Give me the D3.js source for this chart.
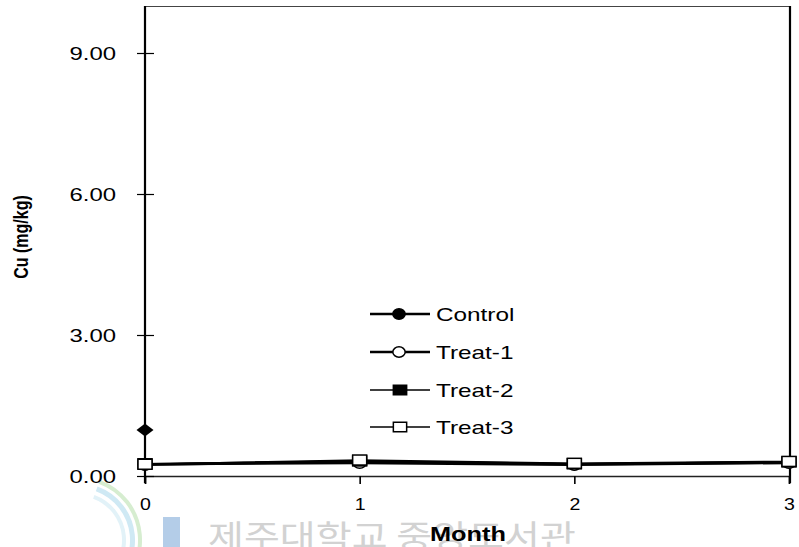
<!DOCTYPE html>
<html>
<head>
<meta charset="utf-8">
<script src="https://cdn.jsdelivr.net/npm/d3@7"></script>
<style>
  html, body { margin: 0; padding: 0; background: #fff; }
  svg { display: block; }
  text { font-family: "Liberation Sans", Arial, sans-serif; fill: #000; }
</style>
</head>
<body>
<svg id="chart" width="799" height="547"></svg>
<script>
// Cu content (mg/kg) by month for each treatment
const months = [0, 1, 2, 3];
const seriesNames = ["Control", "Treat-1", "Treat-2", "Treat-3"];
const control = [0.24, 0.31, 0.25, 0.29];
const treat1 = [0.25, 0.28, 0.24, 0.28];
const treat2 = [0.26, 0.32, 0.26, 0.30];
const treat3 = [0.25, 0.34, 0.27, 0.31];
// single initial reading plotted at month 0
const initialMonth = [0];
const initialValue = [0.98];
const yTicks = [0, 3, 6, 9];
const xTicks = [0, 1, 2, 3];

const svg = d3.select("#chart");
const x = d3.scaleLinear().domain([0, 3]).range([145, 789]);
const y = d3.scaleLinear().domain([0, 10]).range([476, 6]);

// watermark behind the chart
const wm = svg.append("g");
[[52, "#cfe9f4", 5], [60, "#d6edd0", 4], [44, "#e2f2f8", 4]].forEach(([r, c, w]) => {
  wm.append("path")
    .attr("d", d3.arc()({innerRadius: r, outerRadius: r + w, startAngle: 0.35, endAngle: 2.6}))
    .attr("transform", "translate(78,540)")
    .attr("fill", c);
});
wm.append("rect").attr("x", 163).attr("y", 517).attr("width", 17).attr("height", 30)
  .attr("fill", "#b4cde8");
wm.append("text")
  .attr("transform", "translate(208,548) scale(1.22,1)")
  .style("font-family", "'Noto Sans CJK KR', sans-serif")
  .style("font-size", "32px")
  .style("fill", "#d2d2d2")
  .text("제주대학교 중앙도서관");

// frame: top and right borders
svg.append("line").attr("x1", 145).attr("x2", 790).attr("y1", 6.5).attr("y2", 6.5)
  .attr("stroke", "#444").attr("stroke-width", 1.2);
svg.append("line").attr("x1", 790).attr("x2", 790).attr("y1", 6).attr("y2", 483)
  .attr("stroke", "#000").attr("stroke-width", 2.2);

// x axis
const xAxis = svg.append("g").attr("transform", `translate(0,${y(0)})`)
  .call(d3.axisBottom(x).tickValues(xTicks).tickSize(8).tickFormat(d3.format("d")));
xAxis.select(".domain").attr("stroke", "#222").attr("stroke-width", 1.3);
xAxis.selectAll(".tick line").attr("stroke", "#000").attr("stroke-width", 1.6);
xAxis.selectAll(".tick text").remove();
xAxis.selectAll(".tick").append("text")
  .attr("transform", "translate(0,34) scale(1.15,1)")
  .attr("text-anchor", "middle")
  .style("font-size", "17px")
  .text(d => d);

// y axis
const yAxis = svg.append("g").attr("transform", `translate(${x(0)},0)`)
  .call(d3.axisLeft(y).tickValues(yTicks).tickSize(8).tickFormat(d3.format(".2f")));
yAxis.select(".domain").remove();
yAxis.append("line").attr("x1", 0).attr("x2", 0).attr("y1", 6).attr("y2", 483)
  .attr("stroke", "#000").attr("stroke-width", 2.2);
yAxis.selectAll(".tick line").attr("x1", -8).attr("x2", 9).attr("stroke", "#000").attr("stroke-width", 1.2);
yAxis.selectAll(".tick text").remove();
yAxis.selectAll(".tick").append("text")
  .attr("transform", "translate(-29,6.5) scale(1.33,1)")
  .attr("text-anchor", "end")
  .style("font-size", "18px")
  .text(d3.format(".2f"));

// axis titles
svg.append("text")
  .attr("transform", "translate(468,541) scale(1.3,1)")
  .attr("text-anchor", "middle")
  .style("font-size", "19.5px").style("font-weight", "bold")
  .text("Month");
svg.append("text")
  .attr("transform", "translate(28,237) rotate(-90) scale(1,1.3)")
  .attr("text-anchor", "middle")
  .style("font-size", "16px").style("font-weight", "bold")
  .text("Cu (mg/kg)");

// series
const series = [
  {name: seriesNames[0], values: control, shape: "circle", fill: "#000", lw: 2.6},
  {name: seriesNames[1], values: treat1, shape: "circle", fill: "#fff", lw: 2.6},
  {name: seriesNames[2], values: treat2, shape: "square", fill: "#000", lw: 1.6},
  {name: seriesNames[3], values: treat3, shape: "square", fill: "#fff", lw: 1.6}
];

function drawMarker(g, shape, fill, cx, cy, size) {
  if (shape === "circle") {
    g.append("ellipse").attr("cx", cx).attr("cy", cy)
      .attr("rx", 6.5 * size).attr("ry", 5.5 * size)
      .attr("fill", fill).attr("stroke", "#000").attr("stroke-width", 1.5);
  } else {
    g.append("rect").attr("x", cx - 7 * size).attr("y", cy - 5 * size)
      .attr("width", 14 * size).attr("height", 10 * size)
      .attr("fill", fill).attr("stroke", "#000").attr("stroke-width", 1.5);
  }
}

const line = d3.line().x((d, i) => x(months[i])).y(d => y(d));
const plot = svg.append("g");
series.forEach(s => {
  plot.append("path").datum(s.values).attr("d", line)
    .attr("fill", "none").attr("stroke", "#000").attr("stroke-width", s.lw);
});
series.forEach(s => {
  s.values.forEach((v, i) => drawMarker(plot, s.shape, s.fill, x(months[i]), y(v), 1));
});

// initial reading (diamond)
initialValue.forEach((v, i) => {
  const cx = x(initialMonth[i]), cy = y(v);
  plot.append("path")
    .attr("d", `M${cx - 8.5},${cy}L${cx},${cy - 6.5}L${cx + 8.5},${cy}L${cx},${cy + 6.5}Z`)
    .attr("fill", "#000");
});

// legend
const legendY = [314, 352, 390, 427];
const legend = svg.append("g");
series.forEach((s, i) => {
  const ly = legendY[i];
  legend.append("line").attr("x1", 370).attr("x2", 430).attr("y1", ly).attr("y2", ly)
    .attr("stroke", "#000").attr("stroke-width", s.lw);
  const mx = s.shape === "circle" ? 399 : 400;
  drawMarker(legend, s.shape, s.fill, mx, ly, 0.95);
  legend.append("text")
    .attr("transform", `translate(436,${ly + 7}) scale(1.28,1)`)
    .style("font-size", "19px")
    .text(s.name);
});
</script>
</body>
</html>
